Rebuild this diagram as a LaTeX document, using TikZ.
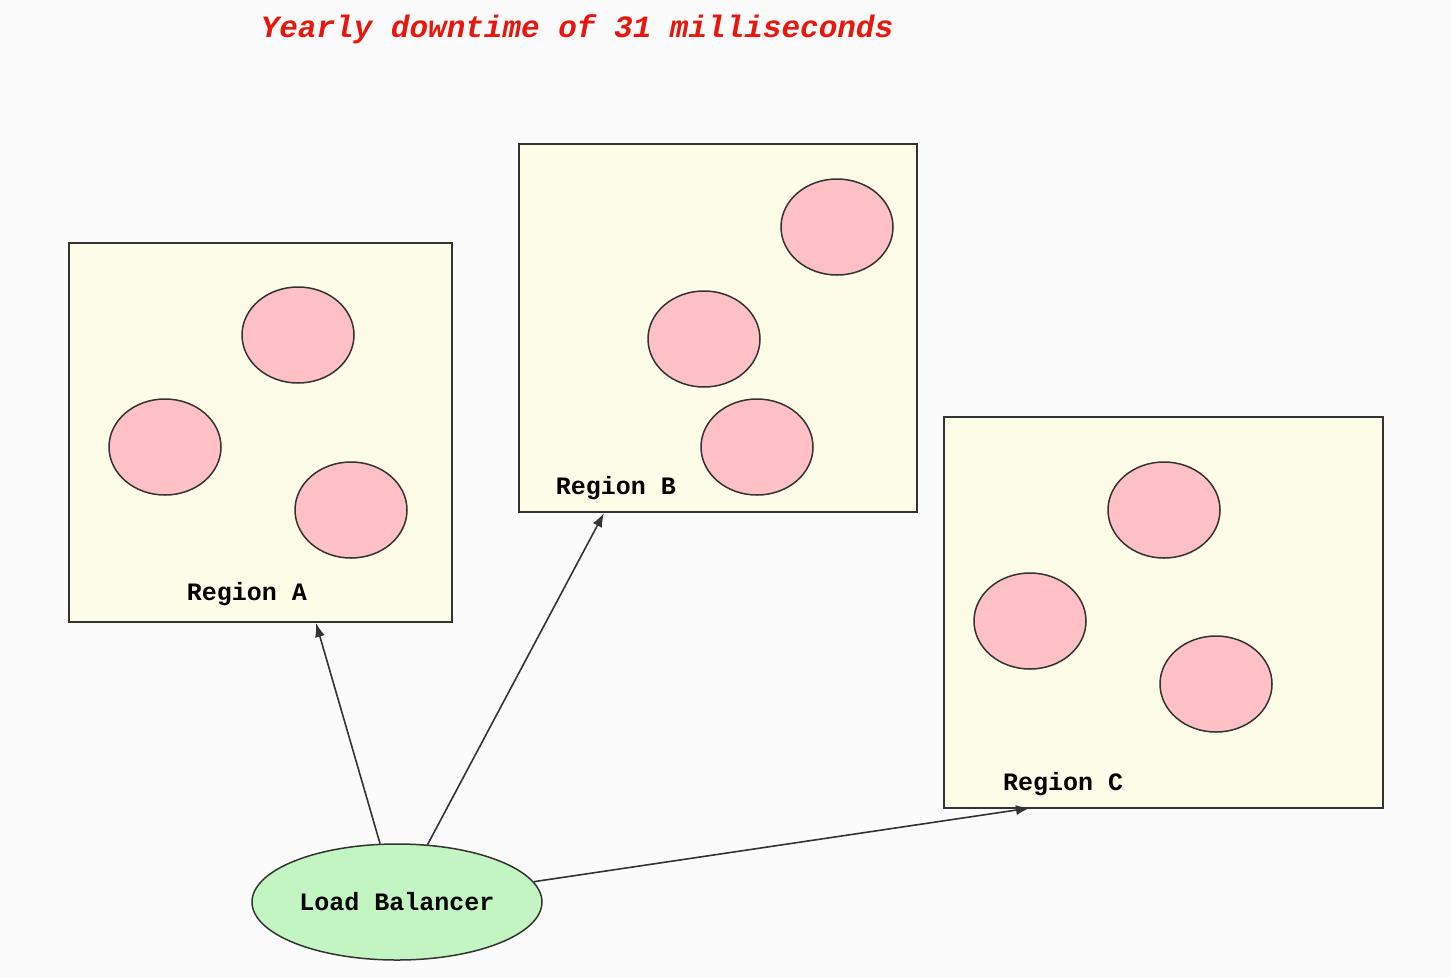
\documentclass[tikz,border=0pt]{standalone}
\usepackage{fontspec}
\setmonofont{Liberation Mono}
\usetikzlibrary{shapes.geometric,arrows.meta}

\definecolor{regfill}{HTML}{FDFCE6}
\definecolor{srvfill}{HTML}{FFC0C6}
\definecolor{lbfill}{HTML}{C2F5C2}
\definecolor{titlered}{HTML}{E8160C}
\definecolor{pagebg}{HTML}{FBFBFB}

\begin{document}
\begin{tikzpicture}[x=1pt,y=-1pt,
    region/.style={draw=black!80,line width=1.7pt,fill=regfill,rectangle,inner sep=0pt},
    server/.style={draw=black!80,line width=1.5pt,fill=srvfill,ellipse,inner sep=0pt,minimum width=112pt,minimum height=96pt},
    reglabel/.style={font=\ttfamily\bfseries\fontsize{25}{27}\selectfont,inner sep=0pt},
    link/.style={draw=black!80,line width=1.6pt,-{Latex[length=14pt,width=10pt]}}]

  \fill[pagebg] (0,0) rectangle (1451,978);
  \useasboundingbox (0,0) rectangle (1451,978);

  % TITLE
  \node[text=titlered,font=\ttfamily\bfseries\itshape\fontsize{31}{33}\selectfont,inner sep=0pt] (Title) at (577,29) {Yearly downtime of 31 milliseconds};

  % REGION A
  \node[region,minimum width=383pt,minimum height=379pt] (RegA) at (260.5,432.5) {};
  \node[server] (SrvA1) at (298,335) {};
  \node[server] (SrvA2) at (165,447) {};
  \node[server] (SrvA3) at (351,510) {};
  \node[reglabel] (LabA) at (247,594) {Region A};

  % REGION B
  \node[region,minimum width=398pt,minimum height=368pt] (RegB) at (718,328) {};
  \node[server] (SrvB1) at (837,227) {};
  \node[server] (SrvB2) at (704,339) {};
  \node[server] (SrvB3) at (757,447) {};
  \node[reglabel] (LabB) at (616,488) {Region B};

  % REGION C
  \node[region,minimum width=439pt,minimum height=391pt] (RegC) at (1163.5,612.5) {};
  \node[server] (SrvC1) at (1164,510) {};
  \node[server] (SrvC2) at (1030,621) {};
  \node[server] (SrvC3) at (1216,684) {};
  \node[reglabel] (LabC) at (1063,784) {Region C};

  % LOAD BALANCER
  \node[draw=black!80,line width=1.5pt,fill=lbfill,ellipse,inner sep=0pt,minimum width=290pt,minimum height=116pt,reglabel] (LoadBal) at (397,902) {Load Balancer};

  \coordinate (InA) at (316,623);
  \coordinate (InB) at (604,513);
  \coordinate (InC) at (1030,808);

  \draw[link] (LoadBal) -- (InA);
  \draw[link] (LoadBal) -- (InB);
  \draw[link] (LoadBal) -- (InC);
\end{tikzpicture}
\end{document}
